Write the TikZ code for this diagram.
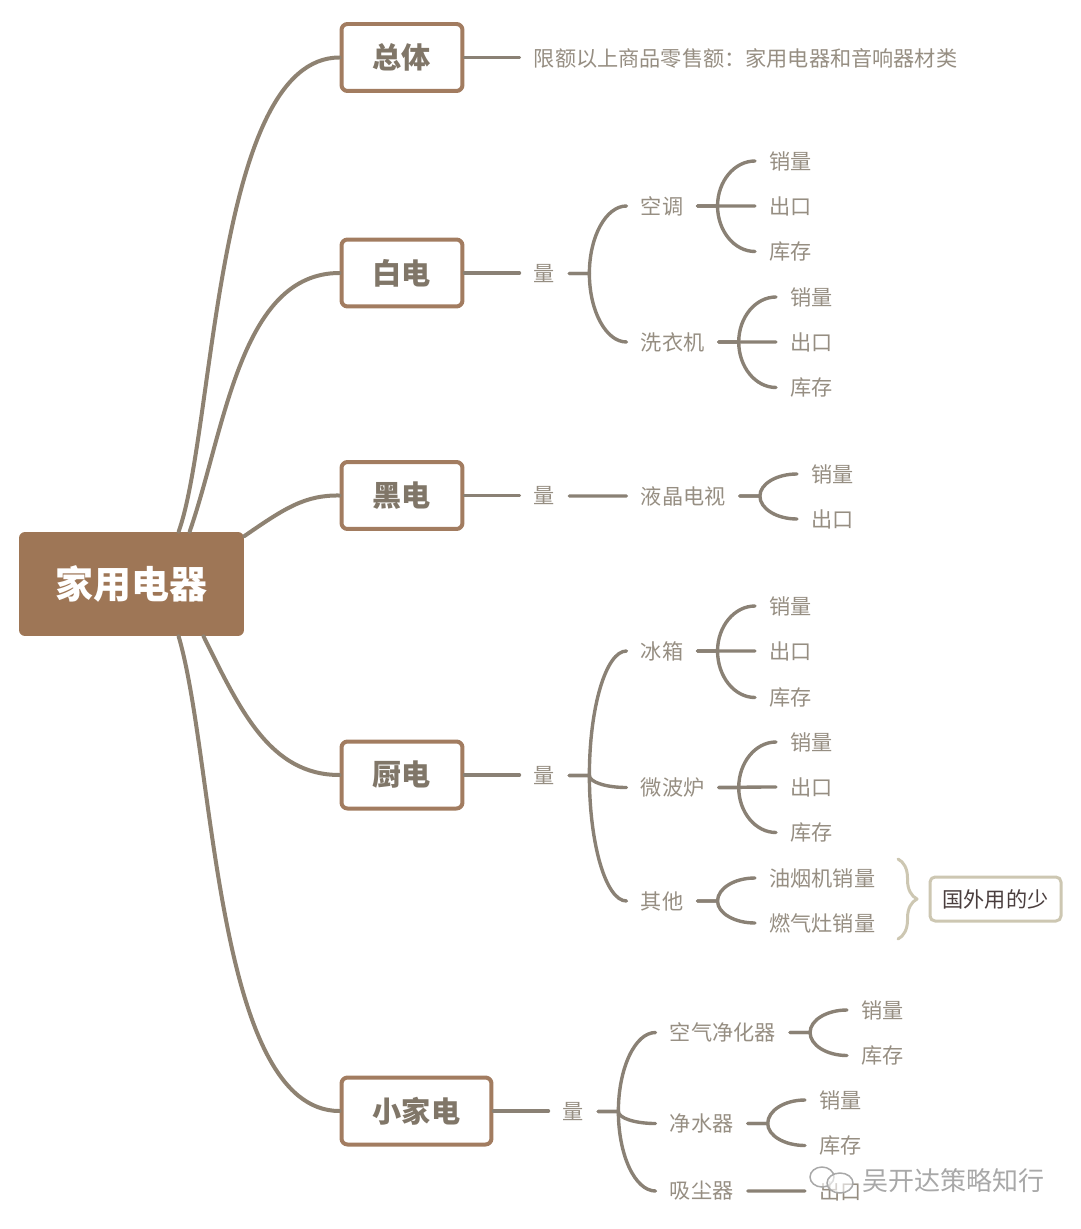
\documentclass[tikz,border=0pt]{standalone}
\usepackage{fontspec}
\setmainfont{Noto Sans CJK SC}
\usetikzlibrary{calc,decorations.pathreplacing}
\definecolor{crootfill}{RGB}{158,118,86}
\definecolor{cboxline}{RGB}{162,124,96}
\definecolor{cbranch}{RGB}{142,130,114}
\definecolor{ctwig}{RGB}{138,129,117}
\definecolor{cleaf}{RGB}{150,142,130}
\definecolor{chead}{RGB}{128,118,104}
\definecolor{cnote}{RGB}{205,199,178}
\definecolor{cnotetext}{RGB}{74,62,62}
\definecolor{cmark}{RGB}{168,168,168}
\newcommand{\mapfork}[2]{%
  \draw[twig] (#1.east) -- ++(20,0) coordinate (hub)
    .. controls ($(hub)!0.55!(hub|-#2.west)$) and ($(#2.west)!0.55!(hub|-#2.west)$) .. (#2.west);}
\begin{document}
\begin{tikzpicture}[x=0.02cm,y=-0.02cm,line cap=round,line join=round,
  rootbox/.style={fill=crootfill,text=white,rounded corners=0.12cm,minimum width=4.5cm,
    minimum height=2.08cm,inner sep=0pt,font=\fontsize{21.6}{24}\selectfont\bfseries},
  headbox/.style={draw=cboxline,fill=white,line width=0.08cm,rounded corners=0.12cm,
    minimum height=1.34cm,inner sep=0pt,text=chead,anchor=west,font=\fontsize{16.6}{20}\selectfont\bfseries},
  leaf/.style={anchor=west,inner xsep=0.28cm,inner ysep=0pt,text=cleaf,font=\fontsize{12.05}{14}\selectfont},
  branch/.style={draw=cbranch,line width=0.08cm},
  twig/.style={draw=ctwig,line width=0.068cm}]

\useasboundingbox (0,0) rectangle (1080,1229);

% =============================== nodes ================================
\node[rootbox] (ROOT) at (131.5,584) {家用电器};

\node[headbox,minimum width=2.42cm] (TOTAL)   at (339.5,57.5) {总体};
\node[headbox,minimum width=2.42cm] (WHITE)   at (339.5,273)  {白电};
\node[headbox,minimum width=2.42cm] (BLACK)   at (339.5,495.5) {黑电};
\node[headbox,minimum width=2.42cm] (KITCHEN) at (339.5,775)  {厨电};
\node[headbox,minimum width=3cm]    (SMALL)   at (339.5,1111) {小家电};

% total
\node[leaf] (SUM) at (519.5,58) {限额以上商品零售额：家用电器和音响器材类};

% white goods
\node[leaf] (QW)  at (519.5,273.5) {量};
\node[leaf] (AC)  at (626.5,206) {空调};
\node[leaf] (WM)  at (626.5,342) {洗衣机};
\node[leaf] (ACa) at (755,161) {销量};
\node[leaf] (ACb) at (755,206) {出口};
\node[leaf] (ACc) at (755,251.5) {库存};
\node[leaf] (WMa) at (776,297) {销量};
\node[leaf] (WMb) at (776,342) {出口};
\node[leaf] (WMc) at (776,387.5) {库存};

% black goods
\node[leaf] (QB)  at (519.5,496) {量};
\node[leaf] (TV)  at (626.5,496) {液晶电视};
\node[leaf] (TVa) at (797,474) {销量};
\node[leaf] (TVb) at (797,519) {出口};

% kitchen
\node[leaf] (QK)  at (519.5,775.5) {量};
\node[leaf] (FR)  at (626.5,651) {冰箱};
\node[leaf] (MW)  at (626.5,787.5) {微波炉};
\node[leaf] (OT)  at (626.5,901) {其他};
\node[leaf] (FRa) at (755,606) {销量};
\node[leaf] (FRb) at (755,651) {出口};
\node[leaf] (FRc) at (755,697.5) {库存};
\node[leaf] (MWa) at (776,742) {销量};
\node[leaf] (MWb) at (776,787) {出口};
\node[leaf] (MWc) at (776,832.5) {库存};
\node[leaf] (OTa) at (755,878) {油烟机销量};
\node[leaf] (OTb) at (755,923) {燃气灶销量};

% small appliances
\node[leaf] (QS)  at (548.5,1111.5) {量};
\node[leaf] (AP)  at (655.5,1032.5) {空气净化器};
\node[leaf] (WP)  at (655.5,1123.5) {净水器};
\node[leaf] (VC)  at (655.5,1191) {吸尘器};
\node[leaf] (APa) at (847,1010) {销量};
\node[leaf] (APb) at (847,1055.5) {库存};
\node[leaf] (WPa) at (805,1100) {销量};
\node[leaf] (WPb) at (805,1145.5) {库存};
\node[leaf] (VCa) at (805,1191) {出口};

% =============================== branches =============================
\draw[branch] (ROOT.48) .. controls (215,430) and (215,57.5) .. (TOTAL.west);
\draw[branch] (ROOT.42.6) .. controls (225,430) and (240,273) .. (WHITE.west);
\draw[branch] (ROOT.23.5) .. controls (285,508) and (305,495) .. (BLACK.west);
\draw[branch] (ROOT.-36) .. controls (240,710) and (270,775) .. (KITCHEN.west);
\draw[branch] (ROOT.-48) .. controls (215,760) and (215,1111) .. (SMALL.west);

\draw[twig] (TOTAL.east) -- (TOTAL.east -| SUM.west);
\draw[twig] (WHITE.east) -- (WHITE.east -| QW.west);
\draw[twig] (BLACK.east) -- (BLACK.east -| QB.west);
\draw[twig] (KITCHEN.east) -- (KITCHEN.east -| QK.west);
\draw[twig] (SMALL.east) -- (SMALL.east -| QS.west);

% ================================ forks ===============================
\foreach \sub in {AC,WM}{\mapfork{QW}{\sub}}
\foreach \sub in {ACa,ACb,ACc}{\mapfork{AC}{\sub}}
\foreach \sub in {WMa,WMb,WMc}{\mapfork{WM}{\sub}}
\mapfork{QB}{TV}
\foreach \sub in {TVa,TVb}{\mapfork{TV}{\sub}}
\foreach \sub in {FR,MW,OT}{\mapfork{QK}{\sub}}
\foreach \sub in {FRa,FRb,FRc}{\mapfork{FR}{\sub}}
\foreach \sub in {MWa,MWb,MWc}{\mapfork{MW}{\sub}}
\foreach \sub in {OTa,OTb}{\mapfork{OT}{\sub}}
\foreach \sub in {AP,WP,VC}{\mapfork{QS}{\sub}}
\foreach \sub in {APa,APb}{\mapfork{AP}{\sub}}
\foreach \sub in {WPa,WPb}{\mapfork{WP}{\sub}}
\mapfork{VC}{VCa}

% ============================ summary note ============================
\coordinate (BRt) at (898,859);
\coordinate (BRb) at (898,939);
\draw[cnote,line width=0.06cm,decorate,decoration={brace,amplitude=0.38cm}] (BRt) -- (BRb);
\node[draw=cnote,fill=white,line width=0.06cm,rounded corners=0.1cm,minimum width=2.62cm,
  minimum height=0.88cm,inner sep=0pt,text=cnotetext,font=\fontsize{12.05}{14}\selectfont]
  (NOTE) at (995.5,899) {国外用的少};

% ============================== watermark =============================
\draw[cmark,fill=white,fill opacity=0.6,line width=0.03cm] (822,1177) ellipse (12 and 10);
\draw[cmark,fill=white,fill opacity=0.6,line width=0.03cm] (840,1183) ellipse (13 and 10);
\node[anchor=west,inner sep=0pt,text=cmark,font=\fontsize{14.8}{18}\selectfont]
  (MARK) at (862,1181) {吴开达策略知行};

\end{tikzpicture}
\end{document}
